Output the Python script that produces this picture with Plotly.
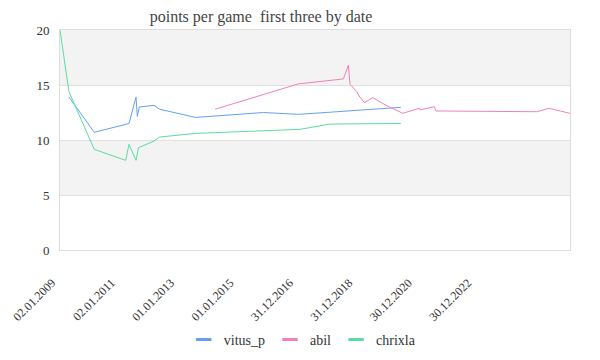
import plotly.graph_objects as go

FONT = "Liberation Serif"

title_text = "points per game  first three by date"

vitus_dates = ["2009-04-22", "2010-02-27", "2011-04-30", "2011-07-25", "2011-08-10",
               "2011-09-04", "2012-03-02", "2012-05-09", "2013-07-25", "2015-11-05",
               "2017-01-09", "2020-06-20"]
vitus_vals = [13.9, 10.7, 11.5, 13.9, 12.15, 13.0, 13.15, 12.8, 12.05, 12.5, 12.33, 12.97]

abil_dates = ["2014-03-22", "2017-01-09", "2018-07-16", "2018-09-15", "2018-10-06",
              "2018-11-10", "2018-12-27", "2019-01-25", "2019-03-31", "2019-07-12",
              "2019-12-10", "2020-07-15", "2021-02-04", "2021-02-12", "2021-08-08",
              "2021-08-25", "2025-01-16", "2025-06-19", "2026-02-28"]
abil_vals = [12.8, 15.1, 15.55, 16.8, 15.06, 14.8, 14.4, 14.0, 13.4, 13.85,
             13.2, 12.43, 12.88, 12.73, 13.03, 12.64, 12.57, 12.88, 12.42]

chrixla_dates = ["2009-01-02", "2009-04-22", "2010-02-27", "2011-03-20", "2011-04-30",
                 "2011-07-25", "2011-08-25", "2012-03-02", "2012-05-09", "2013-07-25",
                 "2017-01-30", "2018-02-02", "2020-06-20"]
chrixla_vals = [20.0, 14.4, 9.15, 8.15, 9.6, 8.15, 9.3, 9.9, 10.27, 10.6, 10.97, 11.45, 11.5]

x_tick_dates = ["2009-01-02", "2011-01-02", "2013-01-01", "2015-01-01",
                "2016-12-31", "2018-12-31", "2020-12-30", "2022-12-30"]
x_tick_labels = ["02.01.2009", "02.01.2011", "01.01.2013", "01.01.2015",
                 "31.12.2016", "31.12.2018", "30.12.2020", "30.12.2022"]

series = [
    ("vitus_p", vitus_dates, vitus_vals, "#64a0f0"),
    ("abil", abil_dates, abil_vals, "#f082b9"),
    ("chrixla", chrixla_dates, chrixla_vals, "#5adca0"),
]

y_ticks = [0, 5, 10, 15, 20]
bands = [(5, 10), (15, 20)]

fig = go.Figure()
for name, d, v, c in series:
    fig.add_trace(go.Scatter(x=d, y=v, name=name, mode="lines", showlegend=False,
                             legendgroup=name, line=dict(color=c, width=1)))
# legend entries drawn as short thick bars
for name, d, v, c in series:
    fig.add_trace(go.Scatter(x=[None], y=[None], name=name, mode="markers",
                             legendgroup=name,
                             marker=dict(symbol="line-ew", size=11, color=c,
                                         line=dict(color=c, width=3))))

for y0, y1 in bands:
    fig.add_shape(type="rect", xref="paper", yref="y", x0=0, x1=1, y0=y0, y1=y1,
                  fillcolor="#f3f3f3", line=dict(width=0), layer="below")

# the page has an 8px body margin, so margins are shifted to compensate
fig.update_layout(
    width=600, height=360,
    margin=dict(l=52, r=38, t=22, b=118, autoexpand=False),
    paper_bgcolor="white", plot_bgcolor="white",
    font=dict(family=FONT, size=12, color="#333"),
    title=dict(text=title_text, xref="container", x=0.4217, xanchor="center",
               yref="container", y=0.993, yanchor="top", pad=dict(t=0, b=0),
               font=dict(family=FONT, size=16, color="#444")),
    showlegend=True,
    legend=dict(orientation="h", x=0.475, xanchor="center", y=-0.409, yanchor="middle",
                itemwidth=30, font=dict(family=FONT, size=14, color="#333")),
    xaxis=dict(type="date", range=["2009-01-02", "2026-02-28"],
               tickvals=x_tick_dates, ticktext=x_tick_labels,
               tickangle=-45, showgrid=False, zeroline=False, automargin=False,
               showline=True, linecolor="#dddddd", linewidth=1, mirror=True,
               ticks="", ticklabelstandoff=20, ticklabelshift=-8,
               ticklabeloverflow="allow",
               tickfont=dict(family=FONT, size=12, color="#333")),
    yaxis=dict(range=[0, 20], tickvals=y_ticks, showgrid=True, gridcolor="#e0e0e0",
               zeroline=False, showline=True, linecolor="#dddddd", linewidth=1, mirror=True,
               ticks="", ticklabelstandoff=7, automargin=False,
               tickfont=dict(family=FONT, size=13, color="#333")),
)

fig.write_html("out.html")
